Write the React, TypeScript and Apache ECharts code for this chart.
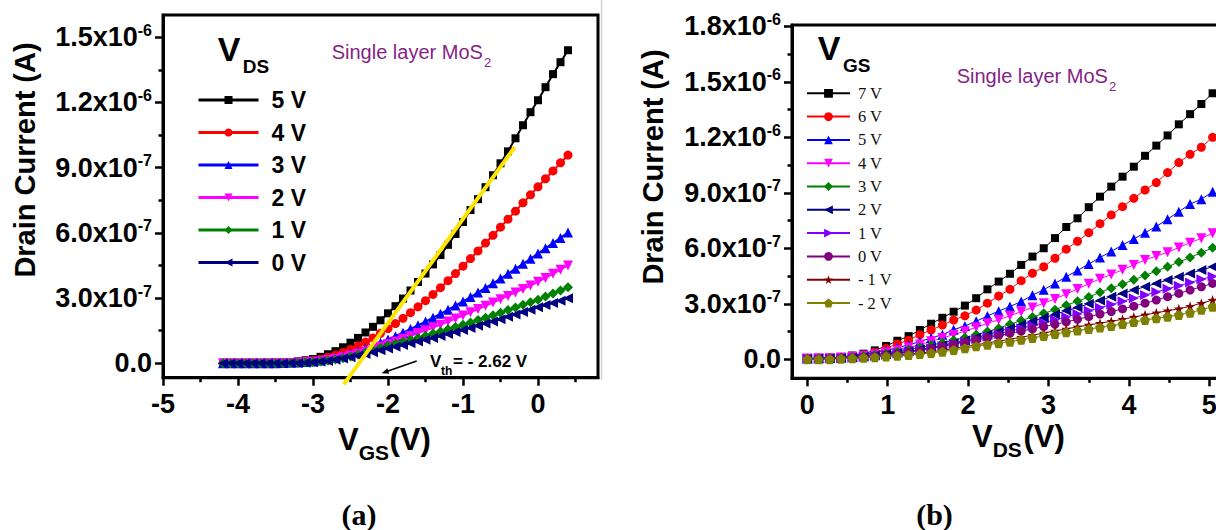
import React, { useEffect, useRef } from 'react';
import * as echarts from 'echarts';

// ---------- Panel (a): transfer curves, I_D vs V_GS (current in units of 1e-7 A) ----------
const vgsSweep = [
  -4.2, -4.1, -4.0, -3.9, -3.8, -3.7, -3.6, -3.5, -3.4, -3.3, -3.2, -3.1, -3.0, -2.9, -2.8, -2.7,
  -2.6, -2.5, -2.4, -2.3, -2.2, -2.1, -2.0, -1.9, -1.8, -1.7, -1.6, -1.5, -1.4, -1.3, -1.2, -1.1,
  -1.0, -0.9, -0.8, -0.7, -0.6, -0.5, -0.4, -0.3, -0.2, -0.1, 0.0, 0.1, 0.2, 0.3, 0.4,
];
const idVds5 = [
  0, 0, 0, 0, 0.01, 0.01, 0.02, 0.03, 0.04, 0.06, 0.09, 0.14, 0.2, 0.3, 0.42, 0.56,
  0.74, 0.95, 1.17, 1.42, 1.68, 1.98, 2.3, 2.63, 2.98, 3.35, 3.74, 4.13, 4.55, 4.98, 5.45, 5.95,
  6.5, 7.05, 7.55, 8.1, 8.65, 9.2, 9.75, 10.35, 10.95, 11.55, 12.1, 12.7, 13.3, 13.85, 14.4,
];
const idVds4 = [
  0, 0, 0, 0, 0.01, 0.01, 0.02, 0.02, 0.03, 0.04, 0.06, 0.09, 0.13, 0.19, 0.28, 0.38,
  0.5, 0.64, 0.8, 0.98, 1.17, 1.38, 1.6, 1.83, 2.07, 2.33, 2.6, 2.88, 3.17, 3.48, 3.8, 4.13,
  4.47, 4.82, 5.17, 5.53, 5.89, 6.26, 6.63, 7.0, 7.38, 7.75, 8.12, 8.49, 8.85, 9.22, 9.58,
];
const idVds3 = [
  0, 0, 0, 0, 0, 0.01, 0.01, 0.01, 0.02, 0.03, 0.04, 0.06, 0.09, 0.13, 0.19, 0.26,
  0.35, 0.45, 0.56, 0.68, 0.81, 0.95, 1.1, 1.25, 1.41, 1.58, 1.75, 1.92, 2.1, 2.28, 2.47, 2.66,
  2.85, 3.05, 3.26, 3.47, 3.68, 3.9, 4.12, 4.35, 4.58, 4.81, 5.05, 5.29, 5.53, 5.77, 6.02,
];
const idVds2 = [
  0, 0, 0, 0, 0, 0, 0.01, 0.01, 0.02, 0.02, 0.03, 0.05, 0.07, 0.1, 0.15, 0.21,
  0.28, 0.36, 0.45, 0.55, 0.66, 0.77, 0.89, 1.01, 1.13, 1.26, 1.39, 1.52, 1.65, 1.78, 1.92, 2.06,
  2.2, 2.35, 2.5, 2.65, 2.8, 2.95, 3.1, 3.26, 3.42, 3.58, 3.75, 3.93, 4.12, 4.31, 4.5,
];
const idVds1 = [
  0, 0, 0, 0, 0, 0, 0, 0.01, 0.01, 0.02, 0.03, 0.04, 0.06, 0.09, 0.13, 0.18,
  0.24, 0.32, 0.41, 0.5, 0.6, 0.71, 0.82, 0.9, 0.99, 1.08, 1.17, 1.27, 1.37, 1.47, 1.57, 1.67,
  1.77, 1.88, 1.99, 2.1, 2.21, 2.33, 2.45, 2.57, 2.69, 2.81, 2.93, 3.07, 3.21, 3.35, 3.5,
];
const idVds0 = [
  0, 0, 0, 0, 0, 0, 0, 0.01, 0.01, 0.02, 0.02, 0.03, 0.05, 0.08, 0.11, 0.16,
  0.22, 0.28, 0.35, 0.43, 0.51, 0.6, 0.68, 0.76, 0.84, 0.92, 1.0, 1.08, 1.17, 1.26, 1.35, 1.44,
  1.53, 1.63, 1.73, 1.83, 1.93, 2.03, 2.14, 2.25, 2.36, 2.47, 2.58, 2.68, 2.78, 2.88, 2.99,
];
// linear fit used for the threshold-voltage extraction: [V_GS, I_D]
const thresholdFit = [
  [-2.59, -0.97],
  [-0.31, 9.95],
];
const vdsNames = ['5 V', '4 V', '3 V', '2 V', '1 V', '0 V'];

const xTicksA = [-5, -4, -3, -2, -1, 0];
const xTickLabelsA = ['-5', '-4', '-3', '-2', '-1', '0'];
const xMinorA = [-4.5, -3.5, -2.5, -1.5, -0.5, 0.5];
const yTicksA = [0, 3, 6, 9, 12, 15];
const yMantA = ['0.0', '3.0x10', '6.0x10', '9.0x10', '1.2x10', '1.5x10'];
const yExpA = ['', '-7', '-7', '-7', '-6', '-6'];
const yMinorA = [1.5, 4.5, 7.5, 10.5, 13.5];

// ---------- Panel (b): output curves, I_D vs V_DS (current in units of 1e-7 A) ----------
const vdsSweep = [
  0, 0.14, 0.28, 0.42, 0.56, 0.7, 0.84, 0.98, 1.12, 1.26, 1.4, 1.54, 1.68, 1.82, 1.96, 2.1,
  2.24, 2.38, 2.52, 2.66, 2.8, 2.94, 3.08, 3.22, 3.36, 3.5, 3.64, 3.78, 3.92, 4.06, 4.2, 4.34,
  4.48, 4.62, 4.76, 4.9, 5.04,
];
const idVgs7 = [
  0.05, 0.06, 0.08, 0.12, 0.2, 0.3, 0.48, 0.72, 1.0, 1.25, 1.58, 1.92, 2.24, 2.57, 2.9, 3.3,
  3.78, 4.2, 4.62, 5.1, 5.55, 6.0, 6.55, 7.15, 7.62, 8.22, 8.79, 9.33, 9.87, 10.41, 11.0, 11.55,
  12.1, 12.7, 13.25, 13.8, 14.38,
];
const idVgs6 = [
  0.04, 0.05, 0.07, 0.1, 0.16, 0.24, 0.38, 0.59, 0.83, 1.03, 1.33, 1.58, 1.85, 2.12, 2.35, 2.66,
  3.03, 3.42, 3.78, 4.25, 4.65, 5.0, 5.46, 5.95, 6.38, 6.84, 7.33, 7.8, 8.25, 8.7, 9.15, 9.55,
  10.09, 10.63, 11.08, 11.46, 12.0,
];
const idVgs5 = [
  0.04, 0.05, 0.07, 0.1, 0.15, 0.23, 0.34, 0.48, 0.62, 0.78, 0.95, 1.15, 1.33, 1.6, 1.8, 2.05,
  2.34, 2.6, 2.85, 3.12, 3.46, 3.76, 4.1, 4.46, 4.8, 5.15, 5.5, 5.83, 6.18, 6.5, 6.84, 7.18,
  7.57, 7.98, 8.39, 8.65, 9.06,
];
const idVgs4 = [
  0.04, 0.05, 0.06, 0.09, 0.13, 0.19, 0.27, 0.37, 0.48, 0.63, 0.8, 0.97, 1.15, 1.33, 1.52, 1.73,
  1.94, 2.14, 2.35, 2.57, 2.8, 3.03, 3.26, 3.52, 3.8, 4.08, 4.35, 4.58, 4.84, 5.1, 5.37, 5.58,
  5.78, 6.04, 6.3, 6.54, 6.81,
];
const idVgs3 = [
  0.03, 0.04, 0.05, 0.08, 0.12, 0.17, 0.24, 0.32, 0.41, 0.52, 0.63, 0.76, 0.89, 1.03, 1.17, 1.32,
  1.5, 1.68, 1.89, 2.1, 2.28, 2.48, 2.68, 2.92, 3.13, 3.36, 3.62, 3.84, 4.06, 4.3, 4.53, 4.76,
  5.0, 5.26, 5.5, 5.76, 6.03,
];
const idVgs2 = [
  0.03, 0.04, 0.05, 0.07, 0.1, 0.14, 0.2, 0.27, 0.35, 0.43, 0.53, 0.64, 0.76, 0.88, 1.02, 1.17,
  1.33, 1.5, 1.68, 1.86, 2.05, 2.24, 2.42, 2.62, 2.8, 3.0, 3.18, 3.38, 3.56, 3.74, 3.92, 4.1,
  4.28, 4.46, 4.64, 4.82, 5.0,
];
const idVgs1 = [
  0.03, 0.03, 0.04, 0.06, 0.08, 0.12, 0.17, 0.24, 0.31, 0.4, 0.49, 0.6, 0.71, 0.83, 0.96, 1.09,
  1.23, 1.37, 1.52, 1.67, 1.82, 1.97, 2.13, 2.29, 2.45, 2.62, 2.79, 2.96, 3.13, 3.3, 3.47, 3.64,
  3.81, 3.98, 4.15, 4.32, 4.48,
];
const idVgs0 = [
  0.02, 0.02, 0.03, 0.05, 0.07, 0.11, 0.16, 0.22, 0.29, 0.38, 0.47, 0.58, 0.69, 0.81, 0.93, 1.04,
  1.16, 1.28, 1.4, 1.52, 1.64, 1.76, 1.89, 2.02, 2.16, 2.3, 2.44, 2.58, 2.72, 2.87, 3.03, 3.2,
  3.38, 3.56, 3.74, 3.92, 4.1,
];
const idVgsM1 = [
  0.01, 0.01, 0.02, 0.04, 0.06, 0.09, 0.13, 0.17, 0.22, 0.27, 0.33, 0.4, 0.48, 0.57, 0.67, 0.78,
  0.88, 0.98, 1.08, 1.19, 1.3, 1.42, 1.53, 1.64, 1.75, 1.85, 1.95, 2.05, 2.16, 2.28, 2.4, 2.51,
  2.62, 2.73, 2.86, 3.03, 3.2,
];
const idVgsM2 = [
  0, 0, 0, 0.03, 0.05, 0.08, 0.11, 0.15, 0.19, 0.23, 0.28, 0.34, 0.41, 0.5, 0.6, 0.7,
  0.79, 0.87, 0.95, 1.05, 1.15, 1.26, 1.36, 1.46, 1.55, 1.63, 1.72, 1.8, 1.9, 2.01, 2.12, 2.21,
  2.3, 2.39, 2.52, 2.68, 2.84,
];
const vgsNames = ['7 V', '6 V', '5 V', '4 V', '3 V', '2 V', '1 V', '0 V', '- 1 V', '- 2 V'];

const xTicksB = [0, 1, 2, 3, 4, 5];
const xTickLabelsB = ['0', '1', '2', '3', '4', '5'];
const xMinorB = [0.5, 1.5, 2.5, 3.5, 4.5];
const yTicksB = [0, 3, 6, 9, 12, 15, 18];
const yMantB = ['0.0', '3.0x10', '6.0x10', '9.0x10', '1.2x10', '1.5x10', '1.8x10'];
const yExpB = ['', '-7', '-7', '-7', '-6', '-6', '-6'];
const yMinorB = [1.5, 4.5, 7.5, 10.5, 13.5, 16.5];

// ---------- shared styling ----------
const SANS = 'Liberation Sans';
const SERIF = 'Liberation Serif';
const STAR =
  'path://M0,-10 L2.35,-3.24 L9.51,-3.09 L3.8,1.24 L5.88,8.09 L0,4 L-5.88,8.09 L-3.8,1.24 L-9.51,-3.09 L-2.35,-3.24 Z';
const PENTAGON = 'path://M0,-10 L9.51,-3.09 L5.88,8.09 L-5.88,8.09 L-9.51,-3.09 Z';

const pairs = (xs: number[], ys: number[]) => xs.map((x, i) => [x, ys[i]]);

function xAxes(min: number, max: number, ticks: number[], labels: string[], minor: number[]) {
  return [
    {
      type: 'value',
      min,
      max,
      position: 'bottom',
      axisLine: { show: true, onZero: false, lineStyle: { color: '#000', width: 3 } },
      axisTick: { show: true, customValues: ticks, length: 8, lineStyle: { color: '#000', width: 2.5 } },
      axisLabel: {
        show: true,
        customValues: ticks,
        margin: 13,
        formatter: (v: number) => labels[ticks.indexOf(v)] ?? '',
        fontFamily: SANS,
        fontWeight: 'bold',
        fontSize: 27,
        color: '#000',
      },
      splitLine: { show: false },
    },
    {
      type: 'value',
      min,
      max,
      position: 'bottom',
      axisLine: { show: false, onZero: false },
      axisTick: { show: true, customValues: minor, length: 4.5, lineStyle: { color: '#000', width: 2.5 } },
      axisLabel: { show: false },
      splitLine: { show: false },
    },
  ];
}

function yAxes(min: number, max: number, ticks: number[], mant: string[], exp: string[], minor: number[]) {
  return [
    {
      type: 'value',
      min,
      max,
      position: 'left',
      axisLine: { show: true, onZero: false, lineStyle: { color: '#000', width: 3 } },
      axisTick: { show: true, customValues: ticks, length: 8, lineStyle: { color: '#000', width: 2.5 } },
      axisLabel: {
        show: true,
        customValues: ticks,
        margin: 11,
        formatter: (v: number) => {
          const i = ticks.indexOf(v);
          if (i < 0) return '';
          return exp[i] ? `{m|${mant[i]}}{s|${exp[i]}}` : `{m|${mant[i]}}`;
        },
        rich: {
          m: { fontFamily: SANS, fontWeight: 'bold', fontSize: 27, color: '#000', lineHeight: 30 },
          s: { fontFamily: SANS, fontWeight: 'bold', fontSize: 16, color: '#000', lineHeight: 14, verticalAlign: 'top' },
        },
      },
      splitLine: { show: false },
    },
    {
      type: 'value',
      min,
      max,
      position: 'left',
      axisLine: { show: false, onZero: false },
      axisTick: { show: true, customValues: minor, length: 4.5, lineStyle: { color: '#000', width: 2.5 } },
      axisLabel: { show: false },
      splitLine: { show: false },
    },
  ];
}

function text(x: number, y: number, s: string, size: number, opts: any = {}) {
  return {
    type: 'text',
    x,
    y,
    rotation: opts.rotation ?? 0,
    z: 10,
    style: {
      text: s,
      fill: opts.color ?? '#000',
      fontFamily: opts.family ?? SANS,
      fontWeight: opts.weight ?? 'bold',
      fontSize: size,
      textAlign: opts.align ?? 'left',
      textVerticalAlign: 'middle',
      align: opts.align ?? 'left',
      verticalAlign: 'middle',
    },
  };
}

function leftOption() {
  const specs = [
    { name: vdsNames[0], data: idVds5, color: '#000000', symbol: 'rect', size: 8, rot: 0 },
    { name: vdsNames[1], data: idVds4, color: '#FF0000', symbol: 'circle', size: 9, rot: 0 },
    { name: vdsNames[2], data: idVds3, color: '#0000FF', symbol: 'triangle', size: 10, rot: 0 },
    { name: vdsNames[3], data: idVds2, color: '#FF00FF', symbol: 'triangle', size: 10, rot: 180 },
    { name: vdsNames[4], data: idVds1, color: '#008000', symbol: 'diamond', size: 10, rot: 0 },
    { name: vdsNames[5], data: idVds0, color: '#000080', symbol: 'triangle', size: 10, rot: 90 },
  ];
  const series: any[] = specs.map((s) => ({
    type: 'line',
    name: s.name,
    data: pairs(vgsSweep, s.data),
    symbol: s.symbol,
    symbolSize: s.size,
    symbolRotate: s.rot,
    showSymbol: true,
    color: s.color,
    lineStyle: { color: s.color, width: 2 },
    itemStyle: { color: s.color },
    xAxisIndex: 0,
    yAxisIndex: 0,
  }));
  series.push({
    type: 'line',
    name: 'fit',
    data: thresholdFit,
    symbol: 'none',
    clip: false,
    lineStyle: { color: '#FFE600', width: 4 },
    z: 5,
  });

  return {
    animation: false,
    grid: { left: 163, top: 15, right: 2, bottom: 152.3, show: true, borderColor: '#000', borderWidth: 3 },
    xAxis: xAxes(-5, 0.8, xTicksA, xTickLabelsA, xMinorA),
    yAxis: yAxes(-0.66, 16.02, yTicksA, yMantA, yExpA, yMinorA),
    legend: {
      data: vdsNames,
      orient: 'vertical',
      left: 197,
      top: 88.5,
      padding: 0,
      itemWidth: 60,
      itemHeight: 10,
      itemGap: 9.5,
      selectedMode: false,
      lineStyle: { width: 3 },
      textStyle: { fontFamily: SANS, fontWeight: 'bold', fontSize: 23, color: '#000', lineHeight: 23, padding: [0, 0, 0, 8] },
    },
    series,
    graphic: [
      text(25, 160, 'Drain Current (A)', 29, { rotation: Math.PI / 2, align: 'center' }),
      text(229, 49, 'V', 34, { align: 'center' }),
      text(256, 66, 'DS', 19, { align: 'center' }),
      text(331.7, 52, 'Single layer MoS', 20, { weight: 'normal', color: '#861F86' }),
      text(484, 62, '2', 13, { weight: 'normal', color: '#861F86' }),
      text(430, 361.7, 'V', 17),
      text(441, 371, 'th', 12),
      text(453, 361.7, '= - 2.62 V', 17),
      { type: 'line', z: 10, shape: { x1: 416.7, y1: 361, x2: 386, y2: 371.8 }, style: { stroke: '#000', lineWidth: 1.5 } },
      { type: 'polygon', z: 10, shape: { points: [[381.7, 373.3], [389.3, 373.8], [387.3, 368.2]] }, style: { fill: '#000' } },
      text(338, 439, 'V', 31),
      text(358.7, 452, 'GS', 21),
      text(389.5, 439, '(V)', 31),
      text(359, 514, '(a)', 30, { family: SERIF, align: 'center' }),
    ],
  };
}

function rightOption() {
  const specs = [
    { name: vgsNames[0], data: idVgs7, color: '#000000', symbol: 'rect', size: 8, rot: 0 },
    { name: vgsNames[1], data: idVgs6, color: '#FF0000', symbol: 'circle', size: 9, rot: 0 },
    { name: vgsNames[2], data: idVgs5, color: '#0000FF', symbol: 'triangle', size: 10, rot: 0 },
    { name: vgsNames[3], data: idVgs4, color: '#FF00FF', symbol: 'triangle', size: 10, rot: 180 },
    { name: vgsNames[4], data: idVgs3, color: '#008000', symbol: 'diamond', size: 10, rot: 0 },
    { name: vgsNames[5], data: idVgs2, color: '#000080', symbol: 'triangle', size: 10, rot: 90 },
    { name: vgsNames[6], data: idVgs1, color: '#7F00FF', symbol: 'triangle', size: 10, rot: -90 },
    { name: vgsNames[7], data: idVgs0, color: '#800080', symbol: 'circle', size: 9, rot: 0 },
    { name: vgsNames[8], data: idVgsM1, color: '#800000', symbol: STAR, size: 10, rot: 0 },
    { name: vgsNames[9], data: idVgsM2, color: '#808000', symbol: PENTAGON, size: 10, rot: 0 },
  ];
  const series: any[] = specs.map((s) => ({
    type: 'line',
    name: s.name,
    data: pairs(vdsSweep, s.data),
    symbol: s.symbol,
    symbolSize: s.size,
    symbolRotate: s.rot,
    showSymbol: true,
    color: s.color,
    lineStyle: { color: s.color, width: 1 },
    itemStyle: { color: s.color },
    xAxisIndex: 0,
    yAxisIndex: 0,
  }));

  return {
    animation: false,
    grid: { left: 192, top: 25, right: 50.4, bottom: 151.7, show: true, borderColor: '#000', borderWidth: 3 },
    xAxis: xAxes(-0.19, 5.5, xTicksB, xTickLabelsB, xMinorB),
    yAxis: yAxes(-1.03, 18.07, yTicksB, yMantB, yExpB, yMinorB),
    legend: {
      data: vgsNames,
      orient: 'vertical',
      left: 206,
      top: 84.8,
      padding: 0,
      itemWidth: 43,
      itemHeight: 11,
      itemGap: 6.3,
      selectedMode: false,
      textStyle: { fontFamily: SERIF, fontSize: 16.5, color: '#111', lineHeight: 17, padding: [0, 0, 0, 3] },
    },
    series,
    graphic: [
      { type: 'line', shape: { x1: 1.5, y1: 0, x2: 1.5, y2: 380 }, style: { stroke: '#d4d4d4', lineWidth: 1.5 } },
      text(53, 167, 'Drain Current (A)', 29, { rotation: Math.PI / 2, align: 'center' }),
      text(229, 48.3, 'V', 34, { align: 'center' }),
      text(256.7, 65, 'GS', 19, { align: 'center' }),
      text(356.7, 76.3, 'Single layer MoS', 20, { weight: 'normal', color: '#861F86' }),
      text(509, 86.7, '2', 13, { weight: 'normal', color: '#861F86' }),
      text(372, 436, 'V', 31),
      text(392.7, 449, 'DS', 21),
      text(423.5, 436, '(V)', 31),
      text(334.5, 514, '(b)', 30, { family: SERIF, align: 'center' }),
    ],
  };
}

export default function App() {
  const leftRef = useRef<HTMLDivElement>(null);
  const rightRef = useRef<HTMLDivElement>(null);

  useEffect(() => {
    const a = echarts.init(leftRef.current as HTMLDivElement, null, { renderer: 'svg' });
    a.setOption(leftOption() as any);
    const b = echarts.init(rightRef.current as HTMLDivElement, null, { renderer: 'svg' });
    b.setOption(rightOption() as any);
    return () => {
      a.dispose();
      b.dispose();
    };
  }, []);

  return (
    <div
      style={{
        position: 'absolute',
        left: 0,
        top: 0,
        width: 1216,
        height: 530,
        overflow: 'hidden',
        background: '#fff',
      }}
    >
      <div ref={leftRef} style={{ position: 'absolute', left: 0, top: 0, width: 600, height: 530 }} />
      <div ref={rightRef} style={{ position: 'absolute', left: 600, top: 0, width: 700, height: 530 }} />
    </div>
  );
}
